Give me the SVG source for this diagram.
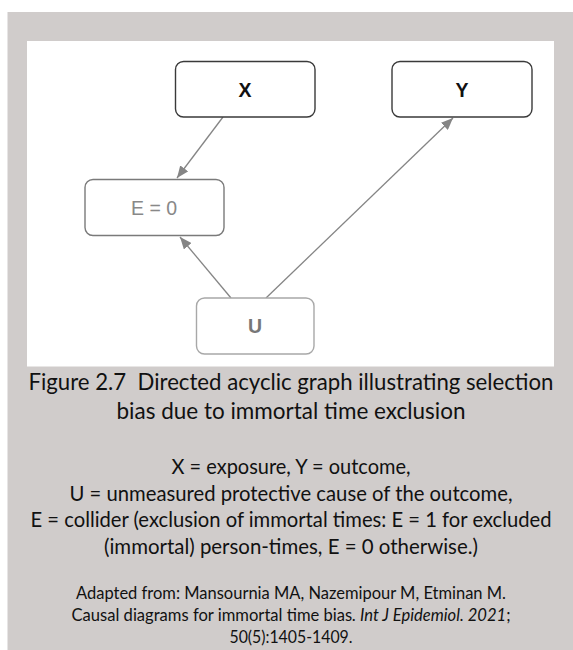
<svg xmlns="http://www.w3.org/2000/svg" width="573" height="650" viewBox="0 0 573 650">
  <style>
    .node { fill: #ffffff; stroke-width: 1.4; }
    .lbl { font-family: "Liberation Sans", Arial, sans-serif; font-size: 19.5px; text-anchor: middle; }
    .conn { stroke: #858585; stroke-width: 1.3; fill: none; marker-end: url(#ah); }
    .cap { font-family: Lato, "Liberation Sans", sans-serif; text-anchor: middle; fill: #111111; }
    .c1 { font-size: 22.5px; }
    .c2 { font-size: 20.3px; }
    .c3 { font-size: 16.4px; }
  </style>
  <defs>
    <marker id="ah" viewBox="0 0 12 10" refX="12" refY="5" markerWidth="12" markerHeight="10" markerUnits="userSpaceOnUse" orient="auto">
      <path d="M0,0 L12,5 L0,10 Z" fill="#858585"/>
    </marker>
  </defs>
  <rect x="0" y="0" width="573" height="650" fill="#ffffff"/>
  <rect x="7.5" y="12" width="566" height="638" fill="#d0cccb"/>
  <rect x="27" y="41" width="527" height="325.5" fill="#ffffff"/>

  <g id="connectors">
    <line class="conn" x1="223" y1="117" x2="177" y2="178"/>
    <line class="conn" x1="231" y1="298" x2="180" y2="237"/>
    <line class="conn" x1="266" y1="298" x2="453" y2="118"/>
  </g>

  <g id="node-X">
    <rect class="node" x="175.5" y="61.5" width="139.5" height="55.5" rx="8" stroke="#3a3a3a"/>
    <text class="lbl" x="245" y="97" font-weight="bold" fill="#111111">X</text>
  </g>
  <g id="node-Y">
    <rect class="node" x="392" y="61.5" width="140" height="55.5" rx="8" stroke="#3a3a3a"/>
    <text class="lbl" x="462" y="97" font-weight="bold" fill="#111111">Y</text>
  </g>
  <g id="node-E">
    <rect class="node" x="85" y="179.5" width="139" height="56" rx="8" stroke="#7a7a7a"/>
    <text class="lbl" x="154" y="215" fill="#888888">E = 0</text>
  </g>
  <g id="node-U">
    <rect class="node" x="196.5" y="298" width="117.5" height="56" rx="8" stroke="#a8a8a8"/>
    <text class="lbl" x="255" y="333" font-weight="bold" fill="#777777">U</text>
  </g>

  <g id="caption">
    <text class="cap c1" x="291" y="389.5" textLength="525" lengthAdjust="spacingAndGlyphs" xml:space="preserve">Figure 2.7  Directed acyclic graph illustrating selection</text>
    <text class="cap c1" x="291" y="418.5" textLength="349" lengthAdjust="spacingAndGlyphs">bias due to immortal time exclusion</text>
    <text class="cap c2" x="291" y="474" textLength="239" lengthAdjust="spacingAndGlyphs">X = exposure, Y = outcome,</text>
    <text class="cap c2" x="291" y="500.5" textLength="443" lengthAdjust="spacingAndGlyphs">U = unmeasured protective cause of the outcome,</text>
    <text class="cap c2" x="291" y="527" textLength="521" lengthAdjust="spacingAndGlyphs">E = collider (exclusion of immortal times: E = 1 for excluded</text>
    <text class="cap c2" x="291" y="553.5" textLength="374" lengthAdjust="spacingAndGlyphs">(immortal) person-times, E = 0 otherwise.)</text>
    <text class="cap c3" x="291" y="598.5" textLength="430" lengthAdjust="spacingAndGlyphs">Adapted from: Mansournia MA, Nazemipour M, Etminan M.</text>
    <text class="cap c3" x="291" y="621" textLength="439" lengthAdjust="spacingAndGlyphs">Causal diagrams for immortal time bias<tspan font-style="italic">. Int J Epidemiol. 2021</tspan>;</text>
    <text class="cap c3" x="291" y="643" textLength="123" lengthAdjust="spacingAndGlyphs">50(5):1405-1409.</text>
  </g>
</svg>
